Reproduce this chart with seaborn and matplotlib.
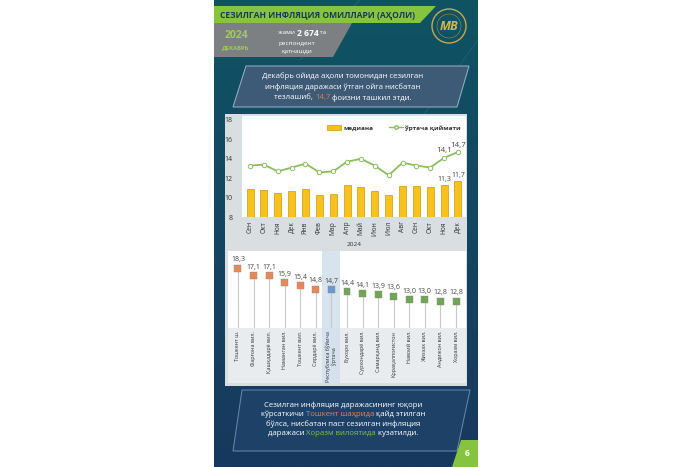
import numpy as np
import pandas as pd
import matplotlib
matplotlib.use("Agg")
import matplotlib.pyplot as plt
import seaborn as sns
from matplotlib.patches import Polygon, Rectangle, Circle, Patch
from matplotlib.lines import Line2D

# ---------------- data ----------------
months = ['Сен', 'Окт', 'Ноя', 'Дек', 'Янв', 'Фев', 'Мар', 'Апр', 'Май', 'Июн',
          'Июл', 'Авг', 'Сен', 'Окт', 'Ноя', 'Дек']
median = [10.9, 10.8, 10.5, 10.7, 10.9, 10.3, 10.4, 11.3, 11.1, 10.7, 10.3, 11.2,
          11.2, 11.1, 11.3, 11.7]
mean = [13.3, 13.4, 12.7, 13.1, 13.5, 12.6, 12.7, 13.7, 14.0, 13.3, 12.3, 13.6,
        13.3, 13.1, 14.1, 14.7]
year_label = '2024'

regions = ['Тошкент ш.', 'Фарғона вил.', 'Қашқадарё вил.', 'Наманган вил.',
           'Тошкент вил.', 'Сирдарё вил.', 'Республика бўйича\nўртача',
           'Бухоро вил.', 'Сурхондарё вил.', 'Самарқанд вил.', 'Қорақалпоғистон',
           'Навоий вил.', 'Жиззах вил.', 'Андижон вил.', 'Хоразм вил.']
region_values = [18.3, 17.1, 17.1, 15.9, 15.4, 14.8, 14.7, 14.4, 14.1, 13.9, 13.6,
                 13.0, 13.0, 12.8, 12.8]
region_groups = ['high'] * 6 + ['avg'] + ['low'] * 8

title = 'СЕЗИЛГАН ИНФЛЯЦИЯ ОМИЛЛАРИ (АҲОЛИ)'

def fmt(v):
    return f'{v:.1f}'.replace('.', ',')

# ---------------- figure ----------------
sns.set_theme(style='white')
plt.rcParams['font.family'] = ['Open Sans', 'DejaVu Sans']

W, H = 700, 467
fig = plt.figure(figsize=(7, 4.67), dpi=100)
fig.patch.set_facecolor('white')

bg = fig.add_axes([0, 0, 1, 1])
bg.set_xlim(0, W)
bg.set_ylim(H, 0)
bg.axis('off')

# panel gradient
grad = np.linspace(0, 1, 256).reshape(-1, 1)
top = np.array([15, 84, 100]) / 255
bot = np.array([24, 56, 94]) / 255
img = top[None, None, :] * (1 - grad[:, :, None]) + bot[None, None, :] * grad[:, :, None]
bg.imshow(img, extent=[214, 478, 467, 0], aspect='auto', zorder=0)
# faint decorative diagonals
bg.plot([300, 360], [60, 0], color='#3f7a8a', lw=0.6, alpha=0.5, zorder=1)
bg.plot([420, 478], [120, 40], color='#3f7a8a', lw=0.6, alpha=0.4, zorder=1)

# header green band
bg.add_patch(Polygon([[214, 6], [436, 6], [420, 23], [214, 23]], closed=True,
                     facecolor='#86c440', edgecolor='none', zorder=2))
bg.text(318, 15, title, ha='center', va='center', fontsize=6.1, fontweight='bold',
        color='#173a5a', zorder=3)
# gray band
bg.add_patch(Polygon([[214, 23], [352, 23], [333, 57], [214, 57]], closed=True,
                     facecolor='#7d8083', edgecolor='none', zorder=2))
bg.text(236, 36, year_label, ha='center', va='center', fontsize=7.5,
        fontweight='bold', color='#9ccc5a', zorder=3)
bg.text(236, 48, 'ДЕКАБРЬ', ha='center', va='center', fontsize=4.3,
        fontweight='bold', color='#9ccc5a', zorder=3)
bg.text(297, 33, 'жами ', ha='right', va='center', fontsize=4.6, color='white', zorder=3)
bg.text(297, 33, '2 674', ha='left', va='center', fontsize=6.2, fontweight='bold',
        color='white', zorder=3)
bg.text(318, 33, ' та', ha='left', va='center', fontsize=4.6, color='white', zorder=3)
bg.text(297, 43, 'респондент', ha='center', va='center', fontsize=4.6, color='white', zorder=3)
bg.text(297, 52, 'қатнашди', ha='center', va='center', fontsize=4.6, color='white', zorder=3)

# logo
bg.add_patch(Circle((449, 26), 17, facecolor='none', edgecolor='#c9a74a', lw=1.0, zorder=3))
bg.add_patch(Circle((449, 26), 12, facecolor='none', edgecolor='#c9a74a', lw=0.3, zorder=3))
bg.text(449, 27, 'МВ', ha='center', va='center', fontsize=9, fontweight='bold',
        fontstyle='italic', color='#d9b44a', zorder=4)

renderer = fig.canvas.get_renderer()

def multicolor_line(x_center, y, parts, fontsize, weight='normal'):
    texts = []
    for s, c in parts:
        t = bg.text(0, y, s, ha='left', va='center', fontsize=fontsize, color=c,
                    fontweight=weight, zorder=5)
        texts.append(t)
    widths = [t.get_window_extent(renderer=renderer).width for t in texts]
    total = sum(widths)
    x = x_center - total / 2
    for t, w in zip(texts, widths):
        t.set_x(x)
        x += w

# text box 1
bg.add_patch(Polygon([[246, 66], [469, 66], [457, 107], [233, 107]], closed=True,
                     facecolor='#3d5a76', edgecolor='#9db2c6', lw=0.7, zorder=2))
fs1 = 5.6
multicolor_line(343, 76, [('Декабрь ойида аҳоли томонидан сезилган', 'white')], fs1)
multicolor_line(343, 87, [('инфляция даражаси ўтган ойга нисбатан', 'white')], fs1)
multicolor_line(343, 98, [('тезлашиб, ', 'white'), ('14,7', '#ee7d3a'),
                          (' фоизни ташкил этди.', 'white')], fs1)

# chart panel 1
bg.add_patch(Rectangle((225, 114), 242, 136, facecolor='#d9dee1', edgecolor='none', zorder=2))
bg.add_patch(Rectangle((242, 116), 224, 101, facecolor='white', edgecolor='none', zorder=2))

# chart panel 2
bg.add_patch(Rectangle((225, 248), 242, 138, facecolor='#d9dee1', edgecolor='none', zorder=2))
bg.add_patch(Rectangle((228, 251), 238, 77, facecolor='white', edgecolor='none', zorder=2))
bg.add_patch(Rectangle((228, 328), 238, 55, facecolor='#e9ecee', edgecolor='none', zorder=2))
bg.add_patch(Rectangle((322, 251), 18, 133, facecolor='#d3e0ec', edgecolor='none',
                       alpha=0.9, zorder=2.5))

# text box 2
bg.add_patch(Polygon([[242, 390], [470, 390], [457, 451], [233, 451]], closed=True,
                     facecolor='#1e4168', edgecolor='#6a8aab', lw=0.7, zorder=2))
fs2 = 5.6
multicolor_line(343, 405, [('Сезилган инфляция даражасининг юқори', 'white')], fs2)
multicolor_line(343, 414.5, [('кўрсаткичи ', 'white'), ('Тошкент шаҳрида', '#f07f4a'),
                             (' қайд этилган', 'white')], fs2)
multicolor_line(343, 424, [('бўлса, нисбатан паст сезилган инфляция', 'white')], fs2)
multicolor_line(343, 433.5, [('даражаси ', 'white'), ('Хоразм вилоятида', '#7fc04a'),
                             (' кузатилди.', 'white')], fs2)

# page number box
bg.add_patch(Polygon([[461, 440], [478, 440], [478, 467], [452, 467]], closed=True,
                     facecolor='#86c440', edgecolor='none', zorder=2))
bg.text(467, 454, '6', ha='center', va='center', fontsize=6, fontweight='bold',
        color='white', zorder=3)

def px_axes(x0, y0, x1, y1):
    return fig.add_axes([x0 / W, 1 - y1 / H, (x1 - x0) / W, (y1 - y0) / H])

# ---------------- chart 1 ----------------
ax1 = px_axes(242, 120, 466, 217)
ax1.set_facecolor('none')
df1 = pd.DataFrame({'i': np.arange(len(months)), 'median': median, 'mean': mean})
sns.barplot(data=df1, x='i', y='median', color='#f6c21b', width=0.5, ax=ax1,
            edgecolor='#c99a10', linewidth=0.5, saturation=1, native_scale=True)
sns.lineplot(data=df1, x='i', y='mean', ax=ax1, color='#8dbb62', lw=1.3,
             marker='o', markersize=3.2, markerfacecolor='white',
             markeredgecolor='#8dbb62', markeredgewidth=0.7)
ax1.set_ylim(8, 18)
ax1.set_xlim(-0.58, len(months) - 1 + 0.58)
ax1.set_yticks([8, 10, 12, 14, 16, 18])
ax1.set_xticks(np.arange(len(months)))
ax1.set_xticklabels(months, rotation=90, fontsize=4.8, color='#333333')
ax1.tick_params(axis='y', labelsize=5, colors='#333333', length=0, pad=7)
ax1.tick_params(axis='x', length=0, pad=3)
ax1.set_xlabel('')
ax1.set_ylabel('')
for s in ax1.spines.values():
    s.set_visible(False)
for k in [len(months) - 2, len(months) - 1]:
    ax1.text(k, median[k] + 0.25, fmt(median[k]), ha='center', va='bottom',
             fontsize=5, color='#444444')
    ax1.text(k, mean[k] + 0.35, fmt(mean[k]), ha='center', va='bottom',
             fontsize=5.8, color='#444444')
handles = [Patch(facecolor='#f6c21b', edgecolor='#c99a10', lw=0.5),
           Line2D([0], [0], color='#8dbb62', lw=1.0, marker='o', markersize=2.5,
                  markerfacecolor='white', markeredgecolor='#8dbb62')]
leg = ax1.legend(handles, ['медиана', 'ўртача қиймати'], ncol=2, loc='upper right',
                 bbox_to_anchor=(1.0, 1.0), frameon=False, fontsize=4.6,
                 handlelength=2.2, handleheight=0.7, columnspacing=2.5,
                 handletextpad=0.3, borderaxespad=0.4)
for t in leg.get_texts():
    t.set_fontweight('bold')
    t.set_color('#333333')
bg.text(354, 245, year_label, ha='center', va='center', fontsize=4.6,
        color='#333333', zorder=5)

# ---------------- chart 2 ----------------
ax2 = px_axes(228, 252, 466, 328)
ax2.set_facecolor('none')
df2 = pd.DataFrame({'pos': np.arange(len(regions)), 'val': region_values,
                    'grp': region_groups})
ymin2 = 8.3
ax2.vlines(df2['pos'], ymin2, df2['val'], color='#c9c9c9', lw=0.8, zorder=1)
sns.scatterplot(data=df2, x='pos', y='val', hue='grp', marker='s', s=25,
                palette={'high': '#e8875a', 'avg': '#6a9bd0', 'low': '#6fa653'},
                edgecolor='#8a8a8a', linewidth=0.3, legend=False, ax=ax2, zorder=3)
for p, v in zip(df2['pos'], df2['val']):
    ax2.text(p, v + 0.8, fmt(v), ha='center', va='bottom', fontsize=5, color='#444444')
ax2.set_ylim(ymin2, 21.0)
ax2.set_xlim(-0.64, len(regions) - 1 + 0.64)
ax2.set_xticks(df2['pos'])
ax2.set_xticklabels(regions, rotation=90, fontsize=3.9, color='#333333',
                    linespacing=1.0)
ax2.tick_params(axis='x', length=0, pad=2)
ax2.set_yticks([])
ax2.set_xlabel('')
ax2.set_ylabel('')
for s in ax2.spines.values():
    s.set_visible(False)

fig.savefig('out.png', dpi=100, facecolor='white')
